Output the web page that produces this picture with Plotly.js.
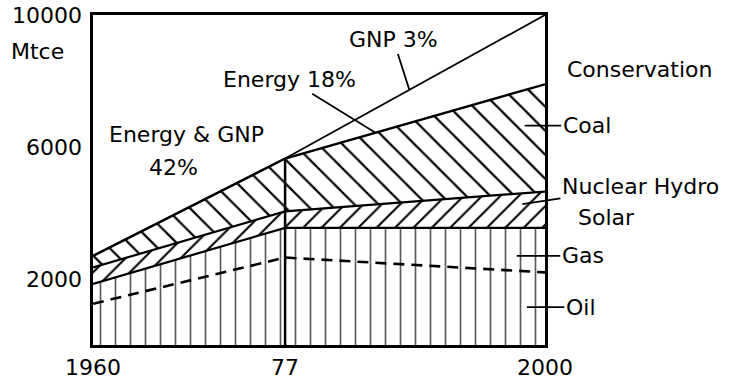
<!DOCTYPE html>
<html>
<head>
<meta charset="utf-8">
<script src="https://cdn.plot.ly/plotly-3.0.1.min.js"></script>
<style>html,body{margin:0;padding:0;background:#fff;}#chart{width:734px;height:385px;}</style>
</head>
<body>
<div id="chart"></div>
<script>
// ---- data (Mtce) ----
var years = [1960, 1977, 2000];
var tickYears = [1960, 1977, 2000];
var tickYearLabels = ['1960', '77', '2000'];
var yTicks = [2000, 6000, 10000];
var yTickLabels = ['2000', '6000', '10000'];
var oil = [1250, 2650, 2200];
var gas = [600, 900, 1350];
var nuclearHydroSolar = [500, 500, 1100];
var coal = [350, 1600, 3250];
var conservation = [0, 0, 2100];

function interp(xs, ys, x) {
  for (var i = 0; i < xs.length - 1; i++) {
    if (x >= xs[i] && x <= xs[i + 1]) {
      var t = (x - xs[i]) / (xs[i + 1] - xs[i]);
      return ys[i] + t * (ys[i + 1] - ys[i]);
    }
  }
  return ys[ys.length - 1];
}
function cum(arrs) {
  return years.map(function (_, i) {
    return arrs.reduce(function (s, a) { return s + a[i]; }, 0);
  });
}
var energyTop = cum([oil, gas, nuclearHydroSolar, coal]);
var gnpTop = cum([oil, gas, nuclearHydroSolar, coal, conservation]);

var F = 'DejaVu Sans';
var lineBase = {color: 'black', width: 2.2};

var traces = [
  {x: years, y: oil, name: 'Oil', stackgroup: 'one', mode: 'lines',
   line: {color: 'black', width: 2.6, dash: '11px,7px'}, fillcolor: 'white',
   fillpattern: {shape: '|', size: 15, solidity: 0.11, fgcolor: '#111', bgcolor: 'white', fgopacity: 0.7}},
  {x: years, y: gas, name: 'Gas', stackgroup: 'one', mode: 'lines',
   line: lineBase, fillcolor: 'white',
   fillpattern: {shape: '|', size: 15, solidity: 0.11, fgcolor: '#111', bgcolor: 'white', fgopacity: 0.7}},
  {x: years, y: nuclearHydroSolar, name: 'Nuclear Hydro Solar', stackgroup: 'one', mode: 'lines',
   line: lineBase, fillcolor: 'white',
   fillpattern: {shape: '/', size: 13, solidity: 0.16, fgcolor: 'black', bgcolor: 'white'}},
  {x: years, y: coal, name: 'Coal', stackgroup: 'one', mode: 'lines',
   line: {color: 'black', width: 2.4}, fillcolor: 'white',
   fillpattern: {shape: '\\', size: 17, solidity: 0.13, fgcolor: 'black', bgcolor: 'white'}},
  {x: years, y: conservation, name: 'Conservation', stackgroup: 'one', mode: 'lines',
   line: {color: 'black', width: 1.8}, fillcolor: 'rgba(0,0,0,0)'}
];

var arrowStyle = {showarrow: true, arrowhead: 0, arrowwidth: 1.8, arrowcolor: 'black', standoff: 0, startstandoff: 0,
  font: {family: F, size: 22, color: 'black'}};
function arrowAnn(text, x, y, ax, ay) {
  return Object.assign({}, arrowStyle, {text: text, x: x, y: y, xref: 'x', yref: 'y', ax: ax, ay: ay});
}
function textAnn(text, x, y) {
  return {text: text, x: x, y: y, xref: 'paper', yref: 'paper', xanchor: 'center', yanchor: 'middle',
    showarrow: false, font: {family: F, size: 22, color: 'black'}};
}

var annotations = [
  arrowAnn('GNP 3%', 1988, interp(years, gnpTop, 1988), -16, -50),
  arrowAnn('Energy 18%', 1985, interp(years, energyTop, 1985), -86, -53),
  arrowAnn('Coal', 1998.2, 6650, 62, 0),
  arrowAnn('Nuclear Hydro', 1998, 4270, 118, -18),
  arrowAnn('Gas', 1997.5, 2700, 66, 0),
  arrowAnn('Oil', 1998.4, 1150, 54, 0),
  textAnn('Solar', 1.135, 0.385),
  textAnn('Energy & GNP', 0.206, 0.639),
  textAnn('42%', 0.179, 0.539),
  textAnn('Conservation', 1.21, 0.836),
  textAnn('Mtce', -0.122, 0.888)
];

var shapes = [
  {type: 'line', xref: 'x', yref: 'y', x0: years[1], x1: years[1], y0: 0, y1: energyTop[1],
   line: {color: 'black', width: 2.5}, layer: 'above'}
];

var layout = {
  width: 734, height: 385,
  margin: {l: 93, r: 189, t: 15, b: 40},
  paper_bgcolor: 'white', plot_bgcolor: 'white',
  showlegend: false,
  hovermode: false,
  font: {family: F, size: 22, color: 'black'},
  xaxis: {range: [1960, 2000], tickvals: tickYears, ticktext: tickYearLabels,
    showgrid: false, zeroline: false, showline: true, mirror: true, linecolor: 'black', linewidth: 2.6,
    ticks: '', ticklabelstandoff: 1, tickfont: {family: F, size: 22, color: 'black'}},
  yaxis: {range: [0, 10000], tickvals: yTicks, ticktext: yTickLabels,
    showgrid: false, zeroline: false, showline: true, mirror: true, linecolor: 'black', linewidth: 2.6,
    ticks: '', ticklabelstandoff: 4, tickfont: {family: F, size: 22, color: 'black'}},
  annotations: annotations,
  shapes: shapes
};

Plotly.newPlot('chart', traces, layout, {staticPlot: true, displayModeBar: false});
</script>
</body>
</html>
